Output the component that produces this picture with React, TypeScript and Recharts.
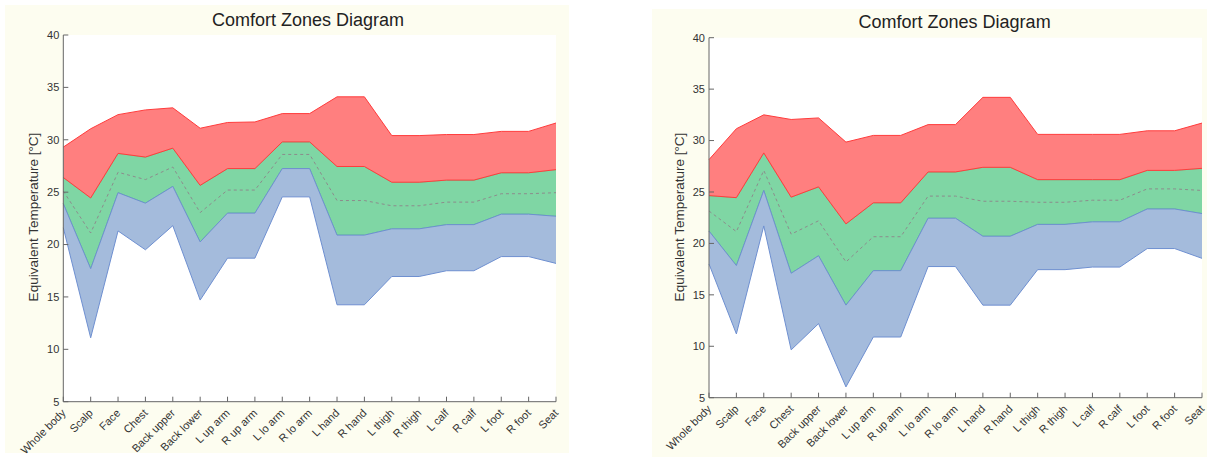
import React from 'react';
import { ComposedChart, Area, Line, XAxis, YAxis, CartesianGrid } from 'recharts';

const FONT = '"Liberation Sans", Arial, Helvetica, sans-serif';
const AXIS = '#666666';
const TICK_TEXT = '#333333';

const categories = ['Whole body', 'Scalp', 'Face', 'Chest', 'Back upper', 'Back lower', 'L up arm', 'R up arm', 'L lo arm', 'R lo arm', 'L hand', 'R hand', 'L thigh', 'R thigh', 'L calf', 'R calf', 'L foot', 'R foot', 'Seat'];
const yTicks = [5, 10, 15, 20, 25, 30, 35, 40];
const titleText = 'Comfort Zones Diagram';
const yLabelText = 'Equivalent Temperature [°C]';

// Left chart
const redTopA = [29.3, 31.05, 32.4, 32.85, 33.05, 31.1, 31.65, 31.7, 32.5, 32.5, 34.1, 34.1, 30.4, 30.4, 30.5, 30.5, 30.8, 30.8, 31.6];
const greenTopA = [26.4, 24.45, 28.7, 28.35, 29.2, 25.65, 27.25, 27.25, 29.8, 29.8, 27.45, 27.45, 25.95, 25.95, 26.15, 26.15, 26.85, 26.85, 27.15];
const neutralA = [25.1, 21.1, 26.9, 26.2, 27.4, 23.05, 25.2, 25.2, 28.6, 28.6, 24.2, 24.2, 23.7, 23.7, 24.05, 24.05, 24.85, 24.85, 24.95];
const blueTopA = [23.9, 17.7, 24.95, 23.95, 25.55, 20.25, 23.0, 23.0, 27.25, 27.25, 20.9, 20.9, 21.5, 21.5, 21.9, 21.9, 22.9, 22.9, 22.7];
const blueLowA = [21.6, 11.1, 21.3, 19.5, 21.8, 14.7, 18.7, 18.7, 24.55, 24.55, 14.25, 14.25, 16.95, 16.95, 17.5, 17.5, 18.85, 18.85, 18.2];

// Right chart
const redTopB = [28.15, 31.15, 32.5, 32.05, 32.2, 29.85, 30.5, 30.5, 31.55, 31.55, 34.2, 34.2, 30.6, 30.6, 30.6, 30.6, 30.95, 30.95, 31.7];
const greenTopB = [24.65, 24.45, 28.8, 24.5, 25.5, 21.9, 23.95, 23.95, 26.95, 26.95, 27.4, 27.4, 26.2, 26.2, 26.2, 26.2, 27.1, 27.1, 27.3];
const neutralB = [23.15, 21.15, 27.1, 20.9, 22.2, 18.2, 20.65, 20.65, 24.6, 24.6, 24.1, 24.1, 24.0, 24.0, 24.2, 24.2, 25.3, 25.3, 25.15];
const blueTopB = [21.2, 17.85, 25.15, 17.1, 18.8, 14.0, 17.35, 17.35, 22.45, 22.45, 20.7, 20.7, 21.85, 21.85, 22.1, 22.1, 23.35, 23.35, 22.9];
const blueLowB = [18.0, 11.2, 21.7, 9.65, 12.2, 6.05, 10.9, 10.9, 17.75, 17.75, 14.0, 14.0, 17.45, 17.45, 17.7, 17.7, 19.5, 19.5, 18.55];

function buildRows(blueLow: number[], blueTop: number[], greenTop: number[], redTop: number[], neutral: number[]) {
  return categories.map((name, i) => ({
    name,
    blue: [blueLow[i], blueTop[i]],
    green: [blueTop[i], greenTop[i]],
    red: [greenTop[i], redTop[i]],
    neutral: neutral[i],
  }));
}

const rowsA = buildRows(blueLowA, blueTopA, greenTopA, redTopA, neutralA);
const rowsB = buildRows(blueLowB, blueTopB, greenTopB, redTopB, neutralB);

const BottomTick = (props: any) => {
  const { x, y, payload } = props;
  const ax = x + 3;
  const ay = y + 12;
  return (
    <g>
      <line x1={x} y1={y} x2={x} y2={y - 5} stroke={AXIS} strokeWidth={1} />
      <text x={ax} y={ay} transform={`rotate(-45 ${ax} ${ay})`} textAnchor="end" fontSize={11} fill={TICK_TEXT} fontFamily={FONT}>
        {payload.value}
      </text>
    </g>
  );
};

const TopTick = (props: any) => {
  const { x, y } = props;
  return <line x1={x} y1={y} x2={x} y2={y + 5} stroke={AXIS} strokeWidth={1} />;
};

const LeftTick = (props: any) => {
  const { x, y, payload } = props;
  return (
    <g>
      <line x1={x} y1={y} x2={x + 5} y2={y} stroke={AXIS} strokeWidth={1} />
      <text x={x - 4} y={y} dy="0.35em" textAnchor="end" fontSize={11} fill={TICK_TEXT} fontFamily={FONT}>
        {payload.value}
      </text>
    </g>
  );
};

const RightTick = (props: any) => {
  const { x, y } = props;
  return <line x1={x} y1={y} x2={x - 5} y2={y} stroke={AXIS} strokeWidth={1} />;
};

type PanelProps = {
  rows: any[];
  left: number;
  top: number;
  width: number;
  height: number;
  chartHeight: number;
  plotLeft: number;
  plotTop: number;
  marginRight: number;
  xAxisHeight: number;
  titleX: number;
  titleTop: number;
  yLabelX: number;
  yLabelY: number;
};

function Panel(p: PanelProps) {
  return (
    <>
      <div style={{ position: 'absolute', left: p.left, top: p.top, width: p.width, height: p.height, background: '#fdfdf0' }} />
      <div style={{ position: 'absolute', left: p.left, top: p.top, width: p.width, height: p.chartHeight }}>
        <ComposedChart
          width={p.width}
          height={p.chartHeight}
          data={p.rows}
          margin={{ top: p.plotTop, right: p.marginRight, bottom: 0, left: 0 }}
        >
          <CartesianGrid fill="#ffffff" horizontal={false} vertical={false} stroke="none" />
          <XAxis
            dataKey="name"
            scale="point"
            padding={{ left: 0, right: 0 }}
            interval={0}
            height={p.xAxisHeight}
            tickSize={0}
            tickMargin={0}
            tickLine={false}
            axisLine={{ stroke: AXIS, strokeWidth: 1 }}
            tick={<BottomTick />}
          />
          <XAxis
            xAxisId="top"
            orientation="top"
            dataKey="name"
            scale="point"
            padding={{ left: 0, right: 0 }}
            interval={0}
            height={0}
            tickSize={0}
            tickMargin={0}
            tickLine={false}
            axisLine={{ stroke: AXIS, strokeWidth: 1 }}
            tick={<TopTick />}
          />
          <YAxis
            type="number"
            domain={[5, 40]}
            ticks={yTicks}
            allowDataOverflow
            width={p.plotLeft}
            tickSize={0}
            tickMargin={0}
            tickLine={false}
            axisLine={{ stroke: AXIS, strokeWidth: 1 }}
            tick={<LeftTick />}
          />
          <YAxis
            yAxisId="right"
            orientation="right"
            type="number"
            domain={[5, 40]}
            ticks={yTicks}
            allowDataOverflow
            width={0}
            tickSize={0}
            tickMargin={0}
            tickLine={false}
            axisLine={{ stroke: AXIS, strokeWidth: 1 }}
            tick={<RightTick />}
          />
          <Area type="linear" dataKey="green" fill="#7fd6a4" fillOpacity={1} stroke="#5cc88a" strokeWidth={1} dot={false} activeDot={false} isAnimationActive={false} />
          <Area type="linear" dataKey="red" fill="#ff7f7f" fillOpacity={1} stroke="#ff3c3c" strokeWidth={1} dot={false} activeDot={false} isAnimationActive={false} />
          <Area type="linear" dataKey="blue" fill="#a4bbdc" fillOpacity={1} stroke="#6e8fd0" strokeWidth={1} dot={false} activeDot={false} isAnimationActive={false} />
          <Line type="linear" dataKey="neutral" stroke="#8c8c8c" strokeWidth={1} strokeDasharray="3 3" dot={false} activeDot={false} isAnimationActive={false} />
        </ComposedChart>
      </div>
      <div
        style={{
          position: 'absolute',
          left: p.titleX - 150,
          top: p.titleTop,
          width: 300,
          textAlign: 'center',
          fontFamily: FONT,
          fontSize: 18,
          lineHeight: '20px',
          color: '#222',
          whiteSpace: 'nowrap',
        }}
      >
        {titleText}
      </div>
      <div
        style={{
          position: 'absolute',
          left: p.yLabelX - 110,
          top: p.yLabelY - 8,
          width: 220,
          height: 16,
          lineHeight: '16px',
          textAlign: 'center',
          fontFamily: FONT,
          fontSize: 13.5,
          color: '#333',
          whiteSpace: 'nowrap',
          transform: 'rotate(-90deg)',
          transformOrigin: '50% 50%',
        }}
      >
        {yLabelText}
      </div>
    </>
  );
}

export default function App() {
  return (
    <div style={{ position: 'absolute', left: 0, top: 0, width: 1207, height: 457, background: '#ffffff', overflow: 'hidden' }}>
      <Panel
        rows={rowsA}
        left={5}
        top={5}
        width={564}
        height={448}
        chartHeight={452}
        plotLeft={58.3}
        plotTop={30}
        marginRight={13}
        xAxisHeight={55.3}
        titleX={308}
        titleTop={10.4}
        yLabelX={33.5}
        yLabelY={217}
      />
      <Panel
        rows={rowsB}
        left={652}
        top={9}
        width={555}
        height={448}
        chartHeight={448}
        plotLeft={57}
        plotTop={28.7}
        marginRight={5}
        xAxisHeight={59.3}
        titleX={954.6}
        titleTop={12}
        yLabelX={680}
        yLabelY={216.7}
      />
    </div>
  );
}
